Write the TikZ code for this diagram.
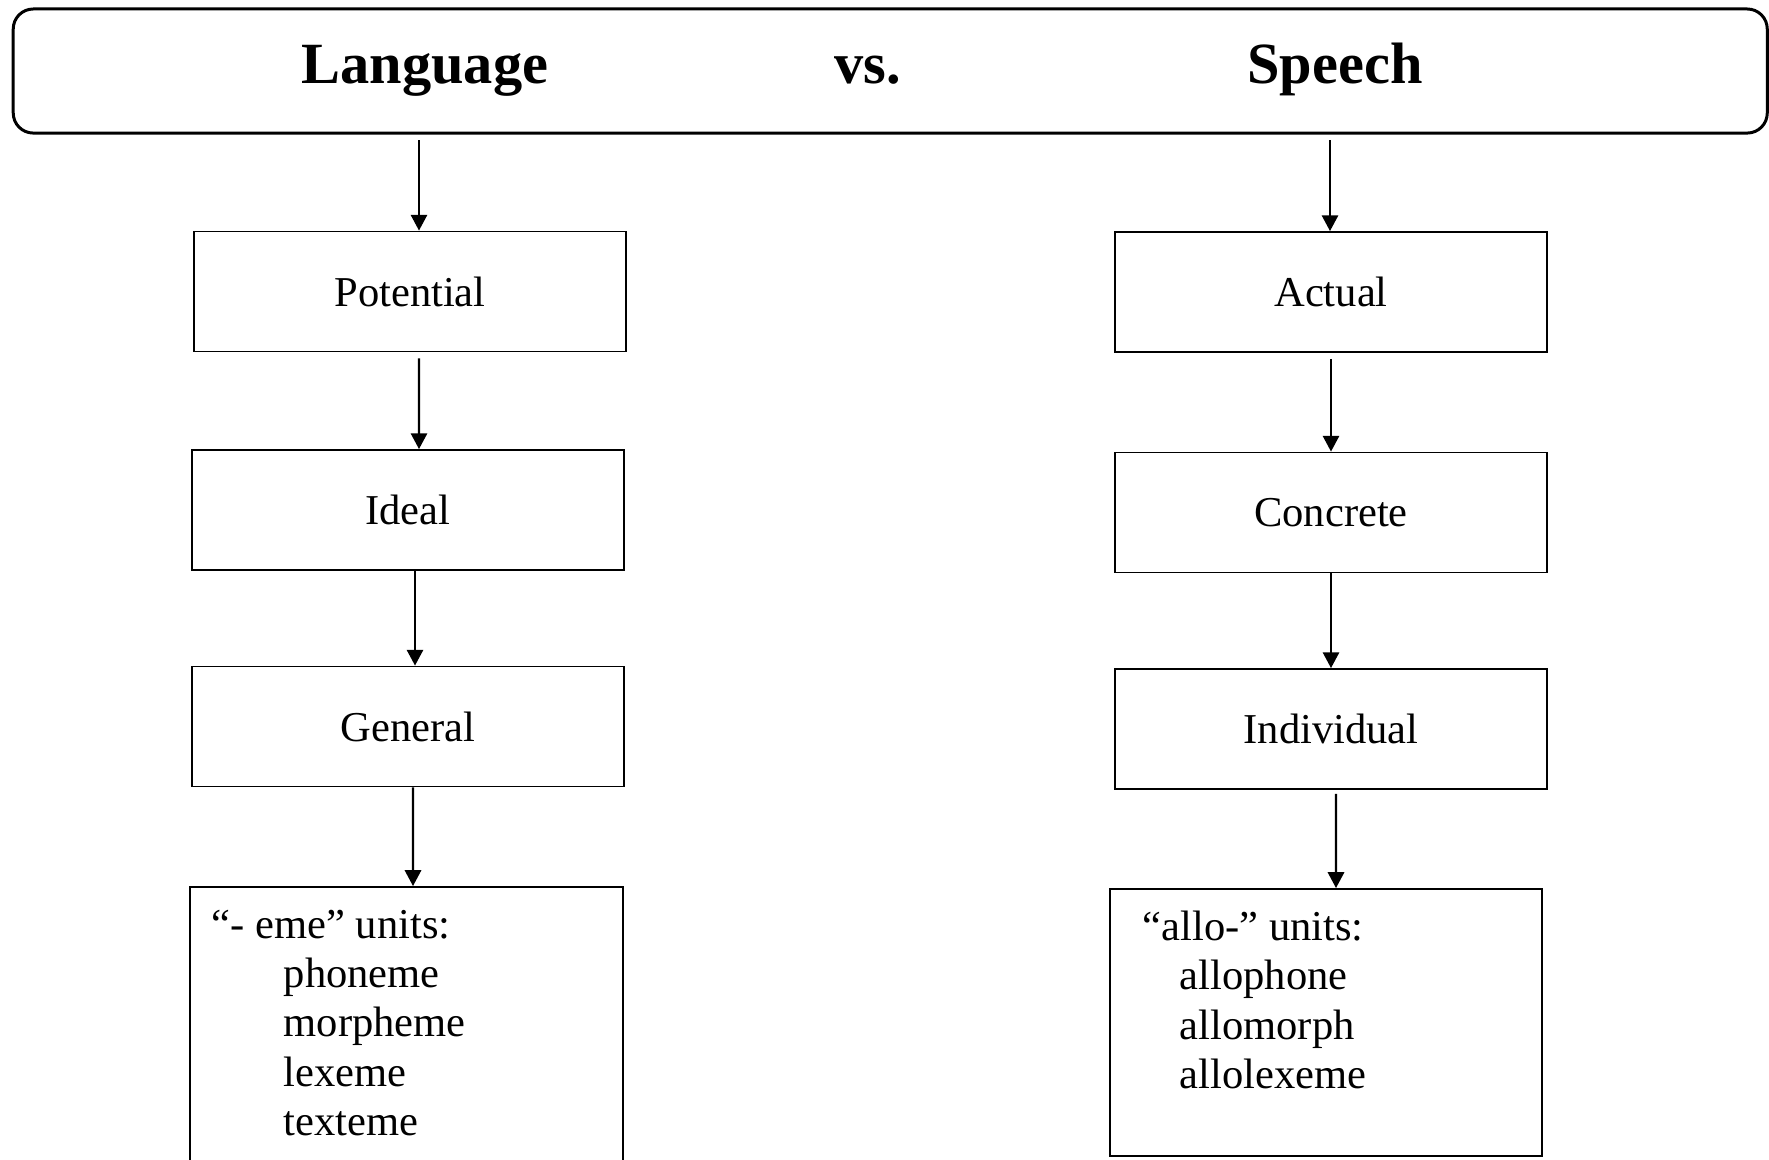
\documentclass[tikz,border=0pt]{standalone}
\usepackage{fontspec}
\setmainfont{Liberation Serif}
\usetikzlibrary{arrows.meta}
\begin{document}
\begin{tikzpicture}[x=0.01cm,y=-0.01cm,
  box/.style={draw, line width=0.5pt, minimum width=4.32cm, minimum height=1.2cm, inner sep=0pt, font=\fontsize{12.1}{13.9}\selectfont},
  arr/.style={line width=0.7pt, -{Triangle[length=4.5pt,width=4.6pt]}},
  ttl/.style={font=\fontsize{16.6}{20}\selectfont\bfseries, anchor=base, inner sep=0pt},
  lst/.style={font=\fontsize{12.1}{14.05}\selectfont, align=left, anchor=north west, inner sep=0pt}]
\clip (0,0) rectangle (1769,1159);
\fill[white] (0,0) rectangle (1769,1159);
\node[draw, line width=0.85pt, rounded corners=0.2cm, minimum width=17.53cm, minimum height=1.24cm, inner sep=0pt] (banner) at (890.25,71) {};
\node[ttl] (lang) at (425,83) {Language};
\node[ttl] (vs) at (868,83) {vs.};
\node[ttl] (speech) at (1335,83) {Speech};
% left column
\node[box] (pot) at (410,291.5) {Potential};
\node[box] (ideal) at (408,510) {Ideal};
\node[box] (gen) at (408,726.5) {General};
\node[box, minimum width=4.33cm, minimum height=2.83cm] (eme) at (406.5,1028.5) {};
\node[lst] (emetxt) at (211,909) {“- eme” units:\\\hspace*{0.72cm}phoneme\\\hspace*{0.72cm}morpheme\\\hspace*{0.72cm}lexeme\\\hspace*{0.72cm}texteme};
% right column
\node[box] (act) at (1331,292) {Actual};
\node[box] (con) at (1331,512.5) {Concrete};
\node[box] (ind) at (1331,729) {Individual};
\node[box, minimum height=2.67cm] (allo) at (1326,1022.5) {};
\node[lst] (allotxt) at (1142,910) {“allo-” units:\\\hspace*{0.37cm}allophone\\\hspace*{0.37cm}allomorph\\\hspace*{0.37cm}allolexeme};
% arrows
\coordinate (c1) at (419,140);
\draw[arr] (c1) -- (pot.north -| c1);
\draw[arr] ([xshift=0.09cm,yshift=-0.06cm]pot.south) -- ([xshift=0.11cm]ideal.north);
\draw[arr] ([xshift=0.07cm]ideal.south) -- ([xshift=0.07cm]gen.north);
\draw[arr] ([xshift=0.05cm]gen.south) -- ([xshift=0.065cm]eme.north);
\coordinate (c2) at (1330,140);
\draw[arr] (c2) -- (act.north -| c2);
\draw[arr] ([yshift=-0.06cm]act.south) -- (con.north);
\draw[arr] (con.south) -- (ind.north);
\draw[arr] ([xshift=0.05cm,yshift=-0.04cm]ind.south) -- ([xshift=0.10cm]allo.north);
\end{tikzpicture}
\end{document}
